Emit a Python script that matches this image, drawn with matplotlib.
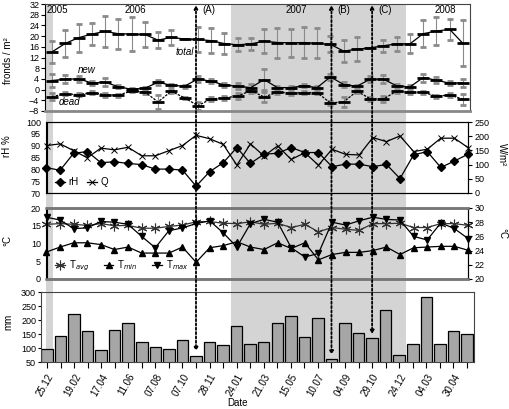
import numpy as np
import matplotlib
matplotlib.use('Agg')
import matplotlib.pyplot as plt
from matplotlib.patches import Rectangle, ConnectionPatch
from matplotlib.transforms import blended_transform_factory

plt.rcParams['font.family'] = ['Liberation Sans', 'DejaVu Sans']
plt.rcParams['font.size'] = 6.5

# sampling dates (every second one labelled)
date_labels = ['25.12', '19.02', '17.04', '11.06', '07.08', '07.10', '28.11', '24.01',
               '21.03', '15.05', '10.07', '04.09', '29.10', '24.12', '04.03', '30.04']
years = ['2005', '2006', '2007', '2008']
year_pos = [0.4, 6.3, 18.4, 29.7]

# fronds / m2
total = [14.1, 17.25, 19.4, 20.75, 21.75, 20.9, 20.75, 20.6, 18.5, 19.5, 18.9, 18.75, 18.3, 17.2, 16.75, 17.1,
         18.1, 17.6, 17.5, 17.6, 17.25, 16.9, 14.4, 15.1, 15.6, 16.4, 17.1, 17.1, 20.9, 21.9, 22.5, 17.25]
total_err = [4.25, 5, 5.3, 4.2, 5.75, 5.6, 6.25, 4.7, 3.0, 2.7, 0, 4.7, 4.7, 3.9, 2.4, 2.2,
             4.5, 5.6, 5.2, 5.75, 5.6, 3.0, 4.0, 4.4, 0, 2.2, 2.6, 3.6, 5.0, 5.2, 3.8, 8.6]
new = [3.4, 3.9, 4.0, 2.5, 2.75, 1.1, 0.1, 0.5, 2.75, 1.6, 1.25, 4.0, 3.1, 1.75, 1.25, 0.75,
       3.75, 0.75, 0.75, 1.4, 0.75, 4.75, 1.9, 1.25, 3.9, 3.9, 1.4, 1.0, 4.5, 3.5, 2.4, 2.5]
new_err = [2.5, 1.5, 1.2, 0.8, 1.5, 0.5, 0.5, 0.5, 1.0, 0.6, 0.5, 1.0, 0.8, 0.6, 1.2, 1.2,
           3.8, 0.6, 0.6, 0.6, 0.6, 1.2, 1.0, 0.6, 1.2, 1.4, 0.6, 0.6, 1.5, 1.2, 0.8, 1.5]
dead = [-2.6, -1.6, -1.9, -1.1, -1.9, -2.1, -0.5, -0.9, -4.6, -0.6, -3.1, -6.0, -3.5, -3.1, -2.4, -0.4,
        -2.75, -1.0, -1.25, -1.1, -1.1, -5.0, -4.6, -0.6, -3.4, -3.5, -0.6, -1.0, -1.0, -2.5, -2.0, -3.6]
dead_err = [1.2, 0.6, 0.6, 0.5, 0.8, 0.6, 0.5, 0.8, 2.5, 0.6, 0.5, 1.5, 0.6, 0.8, 1.0, 0.8,
            2.0, 0.6, 0.6, 0.5, 0.5, 0.8, 2.0, 0.6, 0.8, 1.0, 0.5, 0.6, 0.5, 0.6, 0.8, 2.0]

# climate
rh = [80.7, 79.6, 86.8, 87.5, 82.8, 83.2, 82.5, 82.0, 80.1, 80.1, 79.7, 72.9, 79.0, 82.8, 89.2, 82.5,
      86.4, 86.8, 89.2, 87.1, 87.1, 81.1, 82.2, 82.2, 81.1, 82.1, 76.1, 86.1, 87.5, 80.8, 83.5, 86.4]
q = [167, 173, 149, 124, 158, 152, 161, 131, 131, 149, 167, 203, 191, 171, 98, 173,
     130, 166, 118, 142, 98, 154, 136, 134, 195, 181, 201, 146, 154, 193, 193, 160]
tavg = [15.4, 15.6, 15.4, 15.1, 15.6, 15.0, 15.1, 14.3, 14.3, 14.8, 15.2, 16.1, 16.2, 15.7, 15.6, 16.1,
        15.4, 15.7, 14.5, 15.4, 13.3, 14.5, 14.0, 13.7, 15.6, 15.6, 15.7, 14.5, 14.5, 15.6, 15.6, 15.1]
tmin = [7.6, 9.0, 10.2, 10.2, 9.7, 8.3, 9.0, 7.3, 7.3, 7.3, 9.0, 4.7, 8.8, 9.4, 10.5, 9.0,
        8.3, 10.2, 8.6, 10.2, 5.4, 6.9, 7.5, 7.5, 8.0, 9.0, 6.9, 8.8, 9.0, 9.2, 9.2, 8.1]
tmax = [28.7, 28.3, 27.1, 27.2, 28.1, 28.0, 27.7, 26.0, 24.4, 26.8, 27.2, 27.8, 28.2, 26.5, 24.5, 27.8,
        28.4, 28.0, 24.4, 23.1, 23.6, 28.0, 27.6, 28.2, 28.7, 28.4, 28.3, 26.0, 25.5, 27.9, 27.1, 25.7]
rain = [98, 144, 221, 161, 94, 163, 188, 122, 104, 98, 129, 73, 120, 112, 180, 116,
        122, 191, 213, 141, 206, 60, 191, 152, 134, 234, 75, 116, 283, 116, 161, 149]

# wet seasons (in sample index units) and events
seasons = [(-0.07, 0.45), (13.6, 26.5)]
events = [('(A)', 11), ('(B)', 21), ('(C)', 24)]

x = np.arange(len(total))
W, H = 510, 409
fig = plt.figure(figsize=(W / 100, H / 100), dpi=100)


def box(l, t, r, b):
    return [l / W, 1 - b / H, (r - l) / W, (b - t) / H]


ax1 = fig.add_axes(box(45.5, 4, 470, 111))
ax2 = fig.add_axes(box(46.5, 122, 468, 193))
ax3 = fig.add_axes(box(46.5, 208, 468, 279))
ax4 = fig.add_axes(box(41, 292, 474, 362))
ax2b = ax2.twinx()
ax3b = ax3.twinx()
for a in [ax1, ax2, ax3, ax4, ax2b, ax3b]:
    a.patch.set_visible(False)

# --- top panel: fronds
ekw = dict(ecolor='#8a8a8a', elinewidth=0.8, capsize=2.2, capthick=0.8)
ax1.errorbar(x, total, yerr=total_err, color='black', lw=0.9, marker='_', ms=8, mew=2, **ekw)
ax1.errorbar(x, new, yerr=new_err, color='black', lw=0.9, marker='_', ms=8, mew=2, **ekw)
ax1.errorbar(x, dead, yerr=dead_err, color='black', lw=0.9, ls=(0, (2, 1)), marker='_', ms=8, mew=2, **ekw)
ax1.set_xlim(-0.49, 31.53)
ax1.set_ylim(-8, 32)
ax1.set_yticks(np.arange(-8, 33, 4))
ax1.set_xticks([])
ax1.tick_params(axis='y', length=3, pad=1.5)
ax1.text(10.0, 14.0, 'total', style='italic', ha='center', va='center', fontsize=7,
         bbox=dict(fc='white', ec='none', pad=0.3))
ax1.text(2.6, 7.3, 'new', style='italic', ha='center', va='center', fontsize=7)
ax1.text(1.3, -4.6, 'dead', style='italic', ha='center', va='center', fontsize=7)
for yl, yp in zip(years, year_pos):
    ax1.text(yp, 29.8, yl, ha='center', va='center', fontsize=7)
for s in ['top', 'right']:
    ax1.spines[s].set_color('#444444')
ax1.spines['bottom'].set_color('#888888')
ax1.spines['bottom'].set_linewidth(2)

# --- rH / Q
l1, = ax2.plot(x, rh, color='black', lw=0.9, marker='D', ms=4, clip_on=False, label='rH')
l2, = ax2b.plot(x, q, color='black', lw=0.9, marker='x', ms=5, mew=0.7, clip_on=False, label='Q')
ax2.set_xlim(0, 31)
ax2.set_ylim(70, 100)
ax2.set_yticks(np.arange(70, 101, 5))
ax2b.set_ylim(0, 250)
ax2b.set_yticks(np.arange(0, 251, 50))
ax2.set_xticks([])
ax2.tick_params(axis='y', length=0, pad=4)
ax2b.tick_params(axis='y', length=3, pad=1.5)
ax2.legend([l1, l2], ['rH', 'Q'], loc='lower left', bbox_to_anchor=(0.0, -0.04), ncol=2,
           frameon=False, handlelength=1.0, handletextpad=0.4, columnspacing=0.8, fontsize=7)

# --- temperature
star = (6, 2, 0)
h1, = ax3.plot(x, tavg, color='#333333', lw=0.9, marker=star, ms=7, mew=0.8, clip_on=False)
h2, = ax3.plot(x, tmin, color='black', lw=0.9, marker='^', ms=5, clip_on=False)
h3, = ax3b.plot(x, tmax, color='black', lw=0.9, marker='v', ms=5, clip_on=False)
ax3.set_xlim(0, 31)
ax3.set_ylim(0, 20)
ax3.set_yticks(np.arange(0, 21, 5))
ax3b.set_ylim(20, 30)
ax3b.set_yticks(np.arange(20, 31, 2))
ax3.set_xticks([])
ax3.tick_params(axis='y', length=0, pad=4)
ax3b.tick_params(axis='y', length=3, pad=1.5)
ax3.legend([h1, h2, h3], ['T$_{avg}$', 'T$_{min}$', 'T$_{max}$'], loc='lower left',
           bbox_to_anchor=(0.0, -0.04), ncol=3, frameon=False, handlelength=1.0,
           handletextpad=0.4, columnspacing=1.5, fontsize=7)
for a in [ax3, ax3b]:
    for s in ['top', 'bottom']:
        a.spines[s].set_color('#777777')
        a.spines[s].set_linewidth(1.8)

# --- precipitation
ax4.bar(x, rain, width=0.85, color='#a6a6a6', edgecolor='black', lw=0.9)
ax4.set_xlim(-0.44, 31.52)
ax4.set_ylim(50, 300)
ax4.set_yticks(np.arange(50, 301, 50))
ax4.set_xticks(x)
ax4.set_xticklabels([date_labels[i // 2] if i % 2 == 0 else '' for i in x],
                    rotation=60, ha='right', rotation_mode='anchor', fontsize=7)
ax4.tick_params(axis='x', length=4, pad=3)
ax4.tick_params(axis='y', length=2, pad=1.5)
for s in ax4.spines.values():
    s.set_color('#444444')

# labels
fig.text(8 / W, 1 - 61 / H, 'fronds / m²', rotation=90, ha='center', va='center', fontsize=7)
fig.text(7 / W, 1 - 146 / H, 'rH %', rotation=90, ha='center', va='center', fontsize=7)
fig.text(7 / W, 1 - 241 / H, '°C', rotation=90, ha='center', va='center', fontsize=7)
fig.text(8 / W, 1 - 322 / H, 'mm', rotation=90, ha='center', va='center', fontsize=7)
fig.text(502 / W, 1 - 155 / H, 'W/m²', rotation=270, ha='center', va='center', fontsize=7)
fig.text(502 / W, 1 - 233 / H, '°C', rotation=270, ha='center', va='center', fontsize=7)
fig.text(238 / W, 1 - 403 / H, 'Date', ha='center', va='center', fontsize=7)

# wet season shading across all panels
bt = blended_transform_factory(ax4.transData, fig.transFigure)
y_bot = ax4.get_position().y0
y_top = 1 - 4 / H
for x0, x1 in seasons:
    fig.add_artist(Rectangle((x0, y_bot), x1 - x0, y_top - y_bot, transform=bt,
                             color='#d4d4d4', lw=0, zorder=-5))

# event arrows
for lab, i in events:
    con = ConnectionPatch(xyA=(i, 1 - 5 / H), coordsA=bt, xyB=(i, rain[i] + 15),
                          coordsB=ax4.transData, arrowstyle='<|-|>', mutation_scale=5,
                          linestyle=(0, (1.2, 1.2)), lw=1.3, color='black', zorder=10)
    fig.add_artist(con)
    fig.text(i + 0.45, 1 - 10 / H, lab, transform=bt, ha='left', va='center', fontsize=7)

fig.savefig('out.png', dpi=100)
